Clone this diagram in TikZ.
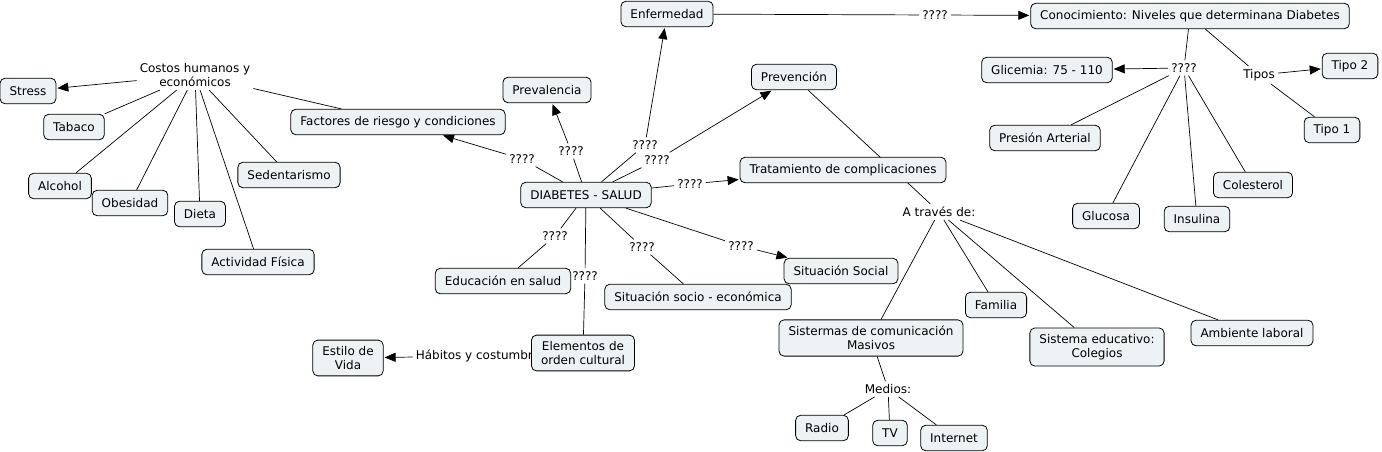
\documentclass[tikz,border=0pt]{standalone}
\usepackage{fontspec}
\setmainfont{DejaVu Sans}
\usetikzlibrary{arrows.meta,backgrounds}
\definecolor{cmapfill}{RGB}{237,243,245}

\begin{document}
\begin{tikzpicture}[x=1pt,y=-1pt,
	concept/.style={draw=black, fill=cmapfill, rounded corners=5pt, line width=0.8pt,
		inner xsep=9.5pt, inner ysep=6pt, minimum height=25.5pt, align=center,
		font=\fontsize{12pt}{14.5pt}\selectfont},
	phrase/.style={inner sep=3pt, align=center, font=\fontsize{12pt}{14.5pt}\selectfont},
	con/.style={line width=0.7pt},
	conarr/.style={con, -{Triangle[length=11pt,width=9pt]}, shorten >=1pt}]
		%%%%% START %%%%%
		
		\path[use as bounding box] (0,0) rectangle (1382,452);
		
		% left: costs
		\node[phrase] (costos) at (195,75) {Costos humanos y\\económicos};
		\node[concept] (stress) at (28,91) {Stress};
		\node[concept] (tabaco) at (74,127) {Tabaco};
		\node[concept] (alcohol) at (60,186) {Alcohol};
		\node[concept] (obesidad) at (130,203) {Obesidad};
		\node[concept] (dieta) at (200,214) {Dieta};
		\node[concept] (sedent) at (289,175) {Sedentarismo};
		\node[concept] (actividad) at (258,262) {Actividad Física};
		\node[concept] (factores) at (398,122) {Factores de riesgo y condiciones};
		
		% centre
		\node[concept] (diabetes) at (586,195) {DIABETES - SALUD};
		\node[concept] (prevalencia) at (547,90) {Prevalencia};
		\node[concept] (enfermedad) at (667,14) {Enfermedad};
		\node[concept] (prevencion) at (794,77) {Prevención};
		\node[concept] (tratamiento) at (843,170) {Tratamiento de complicaciones};
		\node[concept] (educacion) at (503,281) {Educación en salud};
		\node[concept] (socio) at (698,297) {Situación socio - económica};
		\node[concept] (social) at (841,271) {Situación Social};
		\node[concept] (estilo) at (348,358) {Estilo de\\Vida};
		\node[phrase] (habitos) at (481,356) {Hábitos y costumbres};
		\node[concept] (elementos) at (583,353) {Elementos de\\orden cultural};
		
		\node[phrase] (qfac) at (522,159) {????};
		\node[phrase] (qprev) at (571,151) {????};
		\node[phrase] (qenf) at (645,145) {????};
		\node[phrase] (qpvn) at (657,160) {????};
		\node[phrase] (qtrat) at (690,184) {????};
		\node[phrase] (qedu) at (555,236) {????};
		\node[phrase] (qele) at (585,276) {????};
		\node[phrase] (qsocio) at (642,247) {????};
		\node[phrase] (qsocial) at (741,246) {????};
		
		% right: knowledge
		\node[phrase] (qconoc) at (935,15) {????};
		\node[concept] (conoc) at (1190,16) {Conocimiento: Niveles que determinana Diabetes};
		\node[phrase] (qglic) at (1184,68) {????};
		\node[concept] (glicemia) at (1047,70) {Glicemia: 75 - 110};
		\node[phrase] (tipos) at (1259,75) {Tipos};
		\node[concept] (tipo2) at (1350,66) {Tipo 2};
		\node[concept] (tipo1) at (1332,130) {Tipo 1};
		\node[concept] (presion) at (1045,138) {Presión Arterial};
		\node[concept] (colesterol) at (1253,185) {Colesterol};
		\node[concept] (glucosa) at (1106,216) {Glucosa};
		\node[concept] (insulina) at (1197,219) {Insulina};
		
		% bottom right: means
		\node[phrase] (atraves) at (939,212) {A través de:};
		\node[concept] (sistemas) at (871,338) {Sistermas de comunicación\\Masivos};
		\node[concept] (familia) at (996,305) {Familia};
		\node[concept] (educativo) at (1097,347) {Sistema educativo:\\Colegios};
		\node[concept] (laboral) at (1252,333) {Ambiente laboral};
		\node[phrase] (medios) at (888,389) {Medios:};
		\node[concept] (radio) at (822,428) {Radio};
		\node[concept] (tv) at (890,433) {TV};
		\node[concept] (internet) at (954,438) {Internet};
		
		\begin{scope}[on background layer]
		\fill[white] (0,0) rectangle (1382,452);
		
		\draw[conarr] (costos) -- (stress);
		\foreach \n in {tabaco,alcohol,obesidad,dieta,actividad,sedent,factores}
			\draw[con] (costos) -- (\n);
		
		\draw[con] (diabetes) -- (qfac);
		\draw[conarr] (qfac) -- (factores);
		\draw[con] (diabetes) -- (qprev);
		\draw[conarr] (qprev) -- (prevalencia);
		\draw[con] (diabetes) -- (qenf);
		\draw[conarr] (qenf) -- (enfermedad);
		\draw[con] (diabetes) -- (qpvn);
		\draw[conarr] (qpvn) -- (prevencion);
		\draw[con] (diabetes) -- (qtrat);
		\draw[conarr] (qtrat) -- (tratamiento);
		\draw[con] (diabetes) -- (qedu) -- (educacion);
		\draw[con] (diabetes) -- (qele) -- (elementos);
		\draw[con] (diabetes) -- (qsocio) -- (socio);
		\draw[con] (diabetes) -- (qsocial);
		\draw[conarr] (qsocial) -- (social);
		\draw[con] (elementos) -- (habitos);
		\draw[conarr] (habitos) -- (estilo);
		
		\draw[con] (enfermedad) -- (qconoc);
		\draw[conarr] (qconoc) -- (conoc);
		\draw[con] (conoc) -- (qglic);
		\draw[conarr] (qglic) -- (glicemia);
		\foreach \n in {presion,glucosa,insulina,colesterol}
			\draw[con] (qglic) -- (\n);
		\draw[con] (conoc) -- (tipos);
		\draw[conarr] (tipos) -- (tipo2);
		\draw[con] (tipos) -- (tipo1);
		
		\draw[con] (prevencion) -- (atraves);
		\foreach \n in {sistemas,familia,educativo,laboral}
			\draw[con] (atraves) -- (\n);
		\draw[con] (sistemas) -- (medios);
		\foreach \n in {radio,tv,internet}
			\draw[con] (medios) -- (\n);
		\end{scope}
		
		%%%%% END %%%%%
\end{tikzpicture}
\end{document}
